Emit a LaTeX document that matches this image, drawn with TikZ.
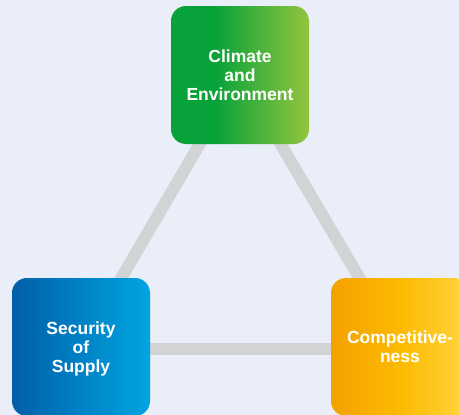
\documentclass[tikz,border=0pt]{standalone}
\usepackage{fontspec}
\setmainfont{Liberation Sans}
\definecolor{bg}{HTML}{E9EEF8}
\definecolor{linkgray}{HTML}{D2D3D5}
\definecolor{gA}{HTML}{08A23A}
\definecolor{gB}{HTML}{93C53E}
\definecolor{bA}{HTML}{005FA7}
\definecolor{bM}{HTML}{0082C6}
\definecolor{bB}{HTML}{00A5E1}
\definecolor{oA}{HTML}{F5A100}
\definecolor{oM}{HTML}{FBBA00}
\definecolor{oB}{HTML}{FFD540}
\pgfdeclarehorizontalshading{greenshade}{100bp}{color(0bp)=(gA); color(25bp)=(gA); color(41bp)=(gA); color(75bp)=(gB); color(100bp)=(gB)}
\pgfdeclarelayer{backdrop}
\pgfdeclarelayer{links}
\pgfsetlayers{backdrop,links,main}
\begin{document}
\begin{tikzpicture}[x=1pt,y=-1pt,
  box/.style={minimum width=138pt,minimum height=138pt,rounded corners=15pt,
    text=white,font=\bfseries\fontsize{17.5pt}{19pt}\selectfont,align=center,inner sep=0pt},
  link/.style={draw=linkgray,line width=12pt}]
\useasboundingbox (0,0) rectangle (459,415);
\clip (0,0) rectangle (459,415);
\begin{pgfonlayer}{backdrop}
\fill[bg] (0,0) rectangle (459,415);
\end{pgfonlayer}
\node[box,shading=greenshade] (clim) at (240,75) {Climate\\and\\Environment};
\node[box,left color=bA,right color=bB,middle color=bM,text depth=-3pt] (sec) at (81,347) {Security\\of\\Supply};
\node[box,left color=oA,right color=oB,middle color=oM] (comp) at (400,347) {Competitive-\\ness};
\begin{pgfonlayer}{links}
\draw[link] (clim.center) -- (sec.center);
\draw[link] (clim.center) -- (comp.center);
\draw[link] ([yshift=-2pt]sec.center) -- ([yshift=-2pt]comp.center);
\end{pgfonlayer}
\end{tikzpicture}
\end{document}
